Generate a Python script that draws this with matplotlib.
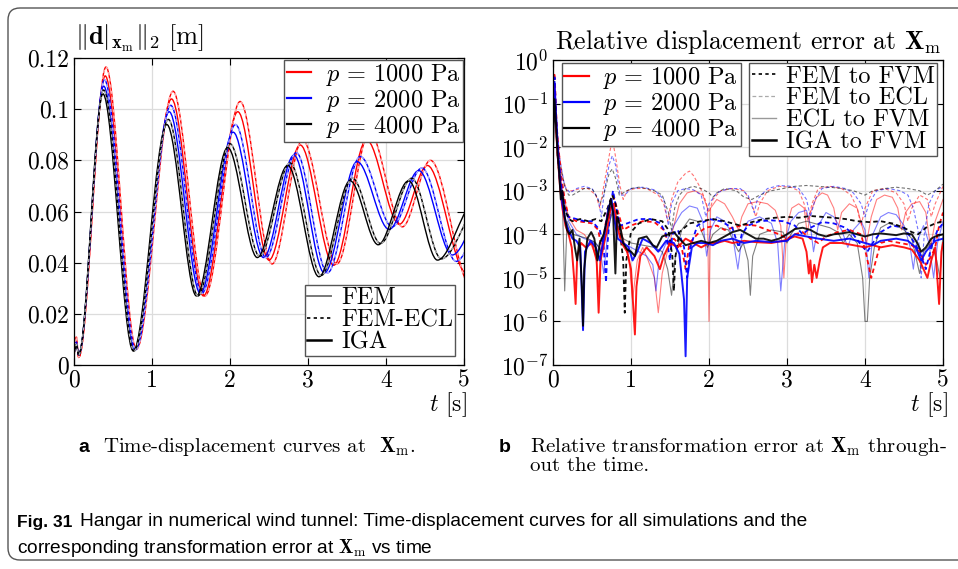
import matplotlib
matplotlib.use("Agg")
import matplotlib.pyplot as plt
import numpy as np
from matplotlib.path import Path
from matplotlib.patches import PathPatch, FancyBboxPatch
from matplotlib.lines import Line2D
from matplotlib.transforms import IdentityTransform

plt.rcParams['font.family'] = 'serif'
plt.rcParams['font.serif'] = ['cmr10']
plt.rcParams['mathtext.fontset'] = 'cm'
plt.rcParams['axes.unicode_minus'] = False

SANS = ['Liberation Sans Narrow', 'Liberation Sans', 'DejaVu Sans']

pressures = [r'$p\,=\,1000$ Pa', r'$p\,=\,2000$ Pa', r'$p\,=\,4000$ Pa']
colors = ['#ff0000', '#0000ff', '#000000']

# ---- panel a: turning points of the displacement curves (t [s], |d| [m])
fem_1000_t = [0, 0.03, 0.06, 0.41, 0.80, 1.27, 1.68, 2.13, 2.54, 2.93, 3.37, 3.79, 4.21, 4.57, 5.10]
fem_1000_d = [0.004, 0.011, 0.003, 0.1165, 0.0062, 0.107, 0.027, 0.103, 0.0395, 0.088, 0.0395, 0.091, 0.054, 0.080, 0.030]
iga_1000_t = [0, 0.03, 0.06, 0.40, 0.79, 1.25, 1.66, 2.10, 2.50, 2.90, 3.33, 3.75, 4.17, 4.53, 5.03]
iga_1000_d = [0.005, 0.009, 0.003, 0.113, 0.0065, 0.104, 0.027, 0.099, 0.041, 0.086, 0.039, 0.088, 0.055, 0.078, 0.036]
fem_2000_t = [0, 0.03, 0.06, 0.39, 0.79, 1.24, 1.64, 2.07, 2.46, 2.85, 3.25, 3.67, 4.08, 4.46, 4.90, 5.30]
fem_2000_d = [0.005, 0.009, 0.004, 0.1115, 0.006, 0.1015, 0.028, 0.094, 0.042, 0.083, 0.036, 0.0815, 0.054, 0.077, 0.0405, 0.060]
iga_2000_t = [0, 0.03, 0.06, 0.38, 0.78, 1.22, 1.62, 2.04, 2.43, 2.82, 3.21, 3.63, 4.04, 4.42, 4.85, 5.25]
iga_2000_d = [0.005, 0.008, 0.004, 0.109, 0.006, 0.099, 0.028, 0.091, 0.042, 0.082, 0.036, 0.0795, 0.053, 0.076, 0.043, 0.060]
fem_4000_t = [0, 0.03, 0.06, 0.38, 0.77, 1.21, 1.59, 2.00, 2.38, 2.77, 3.17, 3.57, 3.93, 4.33, 4.71, 5.25]
fem_4000_d = [0.005, 0.008, 0.004, 0.1075, 0.0055, 0.096, 0.027, 0.0865, 0.0425, 0.079, 0.035, 0.073, 0.0475, 0.073, 0.0415, 0.065]
iga_4000_t = [0, 0.03, 0.06, 0.37, 0.76, 1.19, 1.57, 1.97, 2.35, 2.74, 3.14, 3.54, 3.90, 4.29, 4.66, 5.15]
iga_4000_d = [0.005, 0.008, 0.004, 0.106, 0.0055, 0.094, 0.027, 0.085, 0.042, 0.078, 0.0345, 0.072, 0.047, 0.072, 0.041, 0.064]

# ---- panel b: relative errors, (t [s], log10 error)
iga_fvm_4000 = [(0, -2.0), (0.02, -0.9), (0.04, -1.5), (0.06, -2.2), (0.08, -2.6), (0.10, -3.2), (0.12, -3.0), (0.15, -3.6),
                (0.18, -3.9), (0.21, -4.0), (0.25, -3.9), (0.28, -4.3), (0.31, -4.6), (0.34, -4.1), (0.37, -5.2), (0.385, -6.1),
                (0.40, -4.8), (0.44, -4.1), (0.49, -3.95), (0.53, -4.1), (0.57, -4.6), (0.60, -4.2), (0.65, -4.0), (0.70, -3.6),
                (0.74, -3.2), (0.77, -3.5), (0.80, -4.9), (0.82, -3.6), (0.86, -3.8), (0.90, -4.2), (0.95, -4.35), (1.0, -4.4),
                (1.05, -4.5), (1.1, -4.1), (1.2, -4.05), (1.28, -4.25), (1.33, -4.3), (1.4, -4.05), (1.48, -4.0), (1.55, -3.95),
                (1.62, -4.1), (1.7, -4.25), (1.8, -4.2), (1.9, -4.15), (2.0, -4.2), (2.1, -4.15), (2.2, -4.05), (2.3, -3.95),
                (2.4, -3.9), (2.5, -4.0), (2.6, -4.1), (2.7, -4.1), (2.8, -4.15), (2.9, -4.1), (3.0, -4.0), (3.1, -3.88),
                (3.2, -3.85), (3.3, -3.9), (3.4, -4.0), (3.5, -4.05), (3.6, -4.0), (3.7, -3.98), (3.8, -3.95), (3.9, -4.0),
                (4.0, -4.05), (4.1, -4.0), (4.2, -3.98), (4.3, -4.0), (4.4, -4.02), (4.5, -3.98), (4.6, -4.0), (4.67, -4.2),
                (4.72, -4.4), (4.78, -4.3), (4.85, -4.1), (4.9, -4.05), (5.0, -4.0)]
iga_fvm_2000 = [(0, -1.5), (0.02, -0.5), (0.04, -1.3), (0.06, -2.0), (0.09, -2.8), (0.12, -3.3), (0.16, -3.7), (0.2, -3.9),
                (0.25, -4.1), (0.3, -4.15), (0.35, -4.3), (0.385, -6.2), (0.41, -4.4), (0.48, -4.15), (0.55, -4.3), (0.6, -4.6),
                (0.66, -4.0), (0.71, -3.4), (0.75, -3.2), (0.79, -3.7), (0.83, -4.1), (0.9, -4.2), (0.97, -4.3), (1.02, -4.6),
                (1.08, -4.4), (1.15, -4.1), (1.25, -4.2), (1.35, -4.4), (1.45, -4.15), (1.55, -4.2), (1.62, -4.45), (1.68, -5.5),
                (1.70, -6.8), (1.72, -5.0), (1.78, -4.3), (1.85, -4.2), (1.95, -4.2), (2.05, -4.25), (2.15, -4.15), (2.3, -4.1),
                (2.45, -4.2), (2.6, -4.15), (2.8, -4.18), (3.0, -4.15), (3.1, -4.0), (3.25, -4.05), (3.4, -4.1), (3.6, -4.15),
                (3.8, -4.1), (4.0, -4.2), (4.1, -4.25), (4.2, -4.15), (4.4, -4.1), (4.55, -4.15), (4.65, -4.3), (4.72, -4.6),
                (4.78, -4.4), (4.9, -4.15), (5.0, -4.1)]
iga_fvm_1000 = [(0, -1.2), (0.02, -0.6), (0.04, -1.6), (0.06, -2.2), (0.09, -2.9), (0.12, -3.4), (0.16, -3.8), (0.2, -4.0),
                (0.24, -4.3), (0.27, -5.0), (0.29, -5.6), (0.31, -4.5), (0.36, -4.2), (0.42, -4.3), (0.5, -4.2), (0.56, -4.6),
                (0.585, -5.8), (0.61, -4.6), (0.68, -4.0), (0.74, -3.4), (0.78, -3.3), (0.82, -3.8), (0.88, -4.2), (0.95, -4.4),
                (1.0, -4.8), (1.03, -5.7), (1.05, -6.3), (1.07, -5.2), (1.12, -4.5), (1.2, -4.3), (1.3, -4.5), (1.37, -4.8),
                (1.42, -4.5), (1.5, -4.2), (1.6, -4.3), (1.7, -4.1), (1.8, -4.2), (1.9, -4.3), (2.0, -4.2), (2.1, -4.2),
                (2.2, -4.15), (2.3, -4.2), (2.45, -4.15), (2.6, -4.18), (2.8, -4.2), (2.95, -4.15), (3.1, -4.05), (3.2, -4.1),
                (3.25, -4.4), (3.28, -4.9), (3.3, -4.6), (3.32, -5.1), (3.35, -4.7), (3.38, -5.0), (3.42, -4.6), (3.46, -4.3),
                (3.55, -4.2), (3.7, -4.2), (3.85, -4.25), (4.0, -4.3), (4.1, -4.25), (4.2, -4.3), (4.35, -4.25), (4.5, -4.3),
                (4.6, -4.35), (4.7, -4.6), (4.8, -5.0), (4.85, -4.6), (4.9, -4.3), (4.95, -5.6), (4.98, -4.4), (5.0, -4.2)]

fem_fvm_4000 = [(0, -1.5), (0.03, -1.0), (0.06, -2.2), (0.1, -3.0), (0.15, -3.4), (0.2, -3.65), (0.25, -3.7), (0.35, -3.65),
                (0.45, -3.7), (0.55, -3.65), (0.62, -3.7), (0.7, -3.4), (0.76, -3.1), (0.8, -3.3), (0.85, -3.8), (0.9, -4.6),
                (0.92, -5.8), (0.94, -4.6), (1.0, -3.95), (1.1, -3.75), (1.25, -3.65), (1.4, -3.7), (1.48, -3.9), (1.53, -4.5),
                (1.55, -5.3), (1.57, -4.5), (1.62, -3.95), (1.75, -3.75), (1.9, -3.7), (2.05, -3.65), (2.2, -3.7), (2.3, -3.75),
                (2.4, -3.8), (2.55, -3.72), (2.7, -3.65), (2.85, -3.62), (3.0, -3.6), (3.15, -3.62), (3.3, -3.58), (3.45, -3.6),
                (3.6, -3.62), (3.75, -3.65), (3.9, -3.7), (4.05, -3.72), (4.2, -3.7), (4.35, -3.75), (4.5, -3.85), (4.6, -3.95),
                (4.68, -4.0), (4.78, -3.85), (4.9, -3.75), (5.0, -3.7)]
fem_fvm_2000 = [(0, -0.8), (0.02, -0.4), (0.05, -1.8), (0.1, -2.8), (0.15, -3.4), (0.2, -3.6), (0.3, -3.65), (0.4, -3.7),
                (0.5, -3.7), (0.6, -3.9), (0.65, -4.3), (0.68, -5.1), (0.7, -4.2), (0.74, -3.3), (0.77, -3.0), (0.8, -3.3),
                (0.86, -3.8), (0.95, -3.75), (1.1, -3.65), (1.25, -3.65), (1.38, -3.75), (1.45, -4.0), (1.5, -4.6), (1.53, -4.0),
                (1.6, -3.9), (1.68, -4.3), (1.72, -5.0), (1.76, -4.3), (1.85, -3.8), (2.0, -3.65), (2.15, -3.7), (2.3, -3.85),
                (2.38, -4.3), (2.42, -4.0), (2.5, -3.8), (2.65, -3.7), (2.8, -3.68), (2.95, -3.7), (3.1, -3.8), (3.2, -4.0),
                (3.3, -3.85), (3.45, -3.72), (3.6, -3.75), (3.75, -3.85), (3.85, -4.0), (3.95, -4.25), (4.03, -4.4), (4.1, -4.2),
                (4.2, -3.95), (4.35, -3.8), (4.5, -3.85), (4.6, -4.1), (4.7, -4.4), (4.78, -4.8), (4.85, -4.3), (4.93, -3.9),
                (5.0, -3.75)]
fem_fvm_1000 = [(0, -0.6), (0.02, -0.3), (0.05, -1.6), (0.1, -2.6), (0.15, -3.2), (0.2, -3.6), (0.3, -3.7), (0.4, -3.72),
                (0.5, -3.75), (0.58, -3.9), (0.63, -4.4), (0.67, -3.8), (0.72, -3.3), (0.77, -3.1), (0.82, -3.4), (0.9, -3.9),
                (1.0, -3.8), (1.15, -3.7), (1.3, -3.72), (1.42, -3.9), (1.5, -4.3), (1.55, -4.1), (1.65, -4.3), (1.7, -4.8),
                (1.75, -4.2), (1.85, -4.0), (1.95, -3.85), (2.1, -3.8), (2.2, -3.9), (2.3, -3.85), (2.45, -3.78), (2.6, -3.8),
                (2.75, -3.9), (2.9, -4.0), (3.0, -4.1), (3.1, -4.0), (3.2, -3.95), (3.3, -4.1), (3.4, -4.2), (3.5, -4.05),
                (3.65, -3.95), (3.8, -3.9), (3.95, -4.0), (4.02, -4.5), (4.08, -5.0), (4.14, -4.6), (4.2, -4.2), (4.3, -4.15),
                (4.45, -4.2), (4.6, -4.25), (4.7, -4.4), (4.78, -4.7), (4.85, -4.5), (4.9, -4.3), (4.95, -3.8), (5.0, -3.5)]

fem_ecl_4000 = [(0, -0.8), (0.04, -1.5), (0.08, -2.3), (0.15, -2.9), (0.2, -3.1), (0.25, -3.1), (0.3, -3.05), (0.4, -2.95),
                (0.5, -2.95), (0.55, -3.1), (0.6, -3.3), (0.65, -3.1), (0.72, -2.6), (0.76, -2.5), (0.8, -2.7), (0.85, -3.1),
                (0.9, -3.05), (1.0, -2.95), (1.1, -2.92), (1.2, -2.95), (1.3, -3.0), (1.4, -3.1), (1.48, -3.5), (1.52, -3.9),
                (1.56, -3.4), (1.62, -3.1), (1.7, -2.95), (1.8, -2.9), (1.9, -2.95), (2.0, -3.05), (2.05, -3.15), (2.1, -3.05),
                (2.2, -2.95), (2.35, -3.0), (2.45, -3.15), (2.55, -3.2), (2.65, -3.1), (2.8, -3.0), (2.95, -2.95), (3.1, -2.9),
                (3.25, -2.88), (3.4, -2.9), (3.55, -2.92), (3.7, -2.95), (3.85, -3.0), (4.0, -3.1), (4.1, -3.0), (4.25, -2.95),
                (4.4, -2.92), (4.55, -2.95), (4.7, -3.0), (4.8, -3.1), (4.9, -3.0), (5.0, -2.85)]
fem_ecl_2000 = [(0, -0.6), (0.04, -1.2), (0.08, -2.2), (0.15, -2.9), (0.22, -3.05), (0.3, -2.95), (0.4, -2.9), (0.5, -2.95),
                (0.58, -3.2), (0.62, -3.6), (0.66, -3.0), (0.72, -2.4), (0.76, -2.2), (0.8, -2.4), (0.86, -3.1), (0.92, -3.1),
                (1.0, -2.95), (1.15, -2.92), (1.3, -2.98), (1.42, -3.2), (1.48, -3.8), (1.52, -3.3), (1.6, -3.0), (1.7, -2.95),
                (1.8, -2.98), (1.9, -3.1), (1.96, -3.6), (2.0, -3.3), (2.1, -3.05), (2.25, -2.95), (2.4, -2.95), (2.5, -3.1),
                (2.58, -3.5), (2.62, -3.2), (2.75, -2.95), (2.9, -2.88), (3.05, -2.9), (3.15, -2.95), (3.25, -3.2), (3.3, -3.6),
                (3.36, -3.2), (3.45, -2.95), (3.6, -2.9), (3.75, -2.95), (3.85, -3.05), (3.95, -3.3), (4.0, -3.6), (4.05, -3.3),
                (4.15, -3.0), (4.3, -2.95), (4.45, -3.0), (4.55, -3.1), (4.62, -3.4), (4.68, -3.9), (4.72, -5.0), (4.76, -4.0),
                (4.82, -3.3), (4.9, -3.0), (5.0, -2.9)]
fem_ecl_1000 = [(0, -0.3), (0.03, -1.0), (0.07, -2.0), (0.12, -2.7), (0.18, -3.0), (0.25, -3.0), (0.35, -2.95), (0.45, -2.95),
                (0.55, -3.1), (0.6, -3.4), (0.65, -2.9), (0.72, -2.2), (0.76, -1.8), (0.8, -2.2), (0.86, -2.9), (0.9, -3.2),
                (0.95, -3.0), (1.05, -2.95), (1.2, -2.95), (1.35, -3.1), (1.42, -3.3), (1.47, -3.7), (1.52, -3.2), (1.6, -2.8),
                (1.7, -2.6), (1.75, -2.55), (1.8, -2.65), (1.88, -2.9), (1.95, -3.2), (2.0, -3.5), (2.05, -3.2), (2.15, -3.0),
                (2.3, -2.95), (2.45, -3.0), (2.55, -3.3), (2.6, -3.6), (2.65, -3.3), (2.75, -3.0), (2.9, -2.9), (3.05, -2.92),
                (3.15, -3.0), (3.22, -3.3), (3.27, -3.7), (3.32, -3.3), (3.4, -2.95), (3.55, -2.9), (3.7, -2.95), (3.82, -3.1),
                (3.9, -3.4), (3.95, -3.8), (4.0, -3.4), (4.1, -3.0), (4.25, -2.95), (4.4, -3.05), (4.5, -3.3), (4.55, -3.7),
                (4.6, -3.4), (4.7, -3.1), (4.8, -3.2), (4.85, -3.6), (4.9, -3.3), (5.0, -2.9)]

ecl_fvm_4000 = [(0, -1.0), (0.03, -1.5), (0.07, -2.4), (0.12, -3.2), (0.15, -5.3), (0.18, -3.7), (0.25, -4.0), (0.35, -4.05),
                (0.45, -4.1), (0.55, -4.2), (0.62, -4.4), (0.7, -3.9), (0.76, -3.5), (0.82, -3.8), (0.9, -4.1), (1.0, -4.2),
                (1.15, -4.25), (1.3, -4.3), (1.4, -4.4), (1.47, -4.8), (1.52, -5.4), (1.57, -4.5), (1.65, -3.9), (1.75, -3.65),
                (1.85, -3.7), (1.92, -4.0), (1.98, -4.3), (2.05, -4.0), (2.15, -3.85), (2.25, -3.9), (2.32, -4.2), (2.38, -4.4),
                (2.44, -4.2), (2.5, -4.6), (2.53, -5.4), (2.56, -4.5), (2.65, -4.0), (2.8, -3.9), (2.95, -3.95), (3.0, -4.2),
                (3.05, -4.0), (3.15, -3.75), (3.25, -3.7), (3.35, -3.75), (3.45, -3.8), (3.55, -3.85), (3.65, -3.95), (3.72, -4.2),
                (3.8, -4.0), (3.9, -4.2), (3.97, -5.0), (4.0, -6.0), (4.03, -6.0), (4.06, -5.0), (4.12, -4.3), (4.2, -3.85),
                (4.3, -3.75), (4.4, -3.8), (4.5, -3.9), (4.6, -4.1), (4.65, -4.5), (4.7, -4.9), (4.75, -4.4), (4.85, -4.2),
                (4.92, -4.6), (4.96, -5.0), (5.0, -4.0)]
ecl_fvm_2000 = [(0, -0.7), (0.03, -1.3), (0.07, -2.3), (0.12, -3.1), (0.2, -3.7), (0.3, -4.0), (0.4, -4.1), (0.5, -4.15),
                (0.6, -4.3), (0.65, -4.9), (0.7, -4.0), (0.76, -3.4), (0.82, -3.7), (0.9, -4.2), (1.0, -4.3), (1.1, -4.4),
                (1.2, -4.5), (1.28, -4.7), (1.32, -5.3), (1.36, -4.6), (1.45, -4.2), (1.55, -3.8), (1.65, -3.5), (1.75, -3.35),
                (1.85, -3.4), (1.92, -3.7), (1.97, -4.5), (2.02, -3.9), (2.1, -3.6), (2.2, -3.7), (2.3, -4.0), (2.37, -4.8),
                (2.42, -4.1), (2.5, -3.7), (2.65, -3.6), (2.8, -3.75), (2.88, -4.2), (2.92, -5.3), (2.97, -4.2), (3.05, -3.7),
                (3.15, -3.5), (3.25, -3.45), (3.3, -3.8), (3.34, -4.4), (3.4, -3.8), (3.5, -3.5), (3.6, -3.6), (3.7, -3.9),
                (3.78, -4.3), (3.85, -3.9), (3.95, -3.7), (4.0, -3.9), (4.05, -5.0), (4.1, -4.0), (4.2, -3.6), (4.3, -3.5),
                (4.4, -3.55), (4.5, -3.8), (4.58, -4.3), (4.62, -4.8), (4.66, -4.2), (4.75, -3.8), (4.82, -4.2), (4.88, -5.0),
                (4.93, -4.2), (5.0, -3.7)]
ecl_fvm_1000 = [(0, -0.5), (0.03, -1.2), (0.07, -2.2), (0.12, -3.0), (0.2, -3.6), (0.3, -3.9), (0.4, -4.0), (0.48, -4.2),
                (0.55, -4.5), (0.58, -5.2), (0.62, -4.3), (0.7, -3.6), (0.76, -3.3), (0.82, -3.6), (0.9, -4.1), (0.97, -4.5),
                (1.02, -5.5), (1.08, -4.6), (1.15, -4.3), (1.22, -4.6), (1.3, -5.0), (1.35, -5.8), (1.4, -4.9), (1.48, -4.3),
                (1.55, -3.8), (1.62, -3.3), (1.72, -3.05), (1.82, -3.0), (1.92, -3.1), (1.98, -3.4), (2.0, -6.0), (2.02, -3.4),
                (2.1, -3.2), (2.2, -3.3), (2.3, -3.6), (2.38, -3.9), (2.42, -3.6), (2.5, -3.3), (2.62, -3.25), (2.75, -3.3),
                (2.85, -3.45), (2.92, -3.8), (2.96, -5.0), (3.0, -3.8), (3.06, -3.4), (3.15, -3.3), (3.22, -3.4), (3.26, -4.0),
                (3.3, -3.5), (3.38, -3.15), (3.45, -3.05), (3.52, -3.1), (3.6, -3.4), (3.65, -3.9), (3.7, -3.5), (3.8, -3.3),
                (3.9, -3.4), (3.96, -3.8), (4.02, -4.2), (4.08, -3.6), (4.15, -3.2), (4.25, -3.1), (4.35, -3.15), (4.42, -3.4),
                (4.47, -3.9), (4.52, -3.5), (4.6, -3.3), (4.7, -3.25), (4.78, -3.5), (4.84, -4.3), (4.9, -3.7), (5.0, -3.2)]

W, H = 958, 569
fig = plt.figure(figsize=(W / 100, H / 100), dpi=100)

# rounded outer frame, open to the right like the page crop
frame = FancyBboxPatch((8, 9), 1010, 552, boxstyle='round,pad=0,rounding_size=12',
                       transform=IdentityTransform(), facecolor='none', edgecolor='#555555', lw=1.0)
fig.patches.append(frame)

ax1 = fig.add_axes([74 / W, 1 - 365 / H, 390 / W, 307 / H])
ax2 = fig.add_axes([553 / W, 1 - 365 / H, 390 / W, 305 / H])


def turning_path(ts, vs):
    # smooth curve through turning points (flat tangent at each point)
    verts = [(ts[0], vs[0])]
    codes = [Path.MOVETO]
    for i in range(1, len(ts)):
        h = ts[i] - ts[i - 1]
        verts += [(ts[i - 1] + h / 3, vs[i - 1]), (ts[i] - h / 3, vs[i]), (ts[i], vs[i])]
        codes += [Path.CURVE4] * 3
    return Path(verts, codes)


curves_a = [(fem_1000_t, fem_1000_d, iga_1000_t, iga_1000_d),
            (fem_2000_t, fem_2000_d, iga_2000_t, iga_2000_d),
            (fem_4000_t, fem_4000_d, iga_4000_t, iga_4000_d)]
for (ft, fd, it, idd), c in zip(curves_a, colors):
    ax1.add_patch(PathPatch(turning_path(it, idd), fill=False, edgecolor=c, lw=1.0))
    ax1.add_patch(PathPatch(turning_path(ft, fd), fill=False, edgecolor=c, lw=1.0))
    ax1.add_patch(PathPatch(turning_path(ft, fd), fill=False, edgecolor='white', lw=0.9,
                            linestyle=(0, (2.5, 2.5)), alpha=0.7))

ax1.set_xlim(0, 5)
ax1.set_ylim(0, 0.12)
ax1.set_xticks([0, 1, 2, 3, 4, 5])
ax1.set_xticklabels(['0', '1', '2', '3', '4', '5'])
ax1.set_yticks([0, 0.02, 0.04, 0.06, 0.08, 0.1, 0.12])
ax1.set_yticklabels(['0', '0.02', '0.04', '0.06', '0.08', '0.1', '0.12'])
ax1.grid(True, color='#dcdcdc', lw=0.9)
ax1.set_axisbelow(True)

LEG = dict(fontsize=17.5, fancybox=False, edgecolor='#555555', framealpha=1, borderaxespad=0,
           borderpad=0.1, handlelength=1.0, labelspacing=0.0)

leg_p = [Line2D([], [], color=c, lw=1.6) for c in colors]
l1 = ax1.legend(leg_p, pressures, loc='upper right', bbox_to_anchor=(0.997, 0.995),
                handletextpad=0.6, **LEG)
ax1.add_artist(l1)
leg_m = [Line2D([], [], color='#777777', lw=1.4),
         Line2D([], [], color='black', lw=1.2, ls=(0, (2, 2))),
         Line2D([], [], color='black', lw=1.8)]
ax1.legend(leg_m, ['FEM', 'FEM-ECL', 'IGA'], loc='lower right', bbox_to_anchor=(0.978, 0.03),
           handletextpad=0.4, **LEG)

# panel b
groups = [
    ([ecl_fvm_1000, ecl_fvm_2000, ecl_fvm_4000], dict(lw=0.8, alpha=0.5, ls='-')),
    ([fem_ecl_1000, fem_ecl_2000, fem_ecl_4000], dict(lw=0.8, alpha=0.55, ls=(0, (3, 2)))),
    ([fem_fvm_1000, fem_fvm_2000, fem_fvm_4000], dict(lw=1.3, alpha=0.95, ls=(0, (2.5, 1.8)))),
    ([iga_fvm_1000, iga_fvm_2000, iga_fvm_4000], dict(lw=1.4, alpha=0.9, ls='-')),
]
for series, style in groups:
    for pts, c in zip(series, colors):
        t = np.array([p[0] for p in pts])
        e = np.array([p[1] for p in pts])
        ax2.plot(t, 10.0 ** e, color=c, **style)

ax2.set_yscale('log')
ax2.set_xlim(0, 5)
ax2.set_ylim(1e-7, 1)
ax2.set_xticks([0, 1, 2, 3, 4, 5])
ax2.set_xticklabels(['0', '1', '2', '3', '4', '5'])
ax2.set_yticks([10.0 ** k for k in range(-7, 1)])
ax2.set_yticklabels(['$10^{%d}$' % k for k in range(-7, 1)])
ax2.grid(True, which='major', color='#dcdcdc', lw=0.9)
ax2.grid(True, which='minor', color='#cccccc', lw=0.6, ls=(0, (1, 2)))
ax2.set_axisbelow(True)

l2 = ax2.legend([Line2D([], [], color=c, lw=1.6) for c in colors], pressures, loc='upper left',
                bbox_to_anchor=(0.023, 0.99), handletextpad=0.6, **LEG)
ax2.add_artist(l2)
leg_c = [Line2D([], [], color='black', lw=1.2, ls=(0, (2, 2))),
         Line2D([], [], color='#aaaaaa', lw=0.9, ls=(0, (3, 2))),
         Line2D([], [], color='#999999', lw=1.0),
         Line2D([], [], color='black', lw=1.8)]
ax2.legend(leg_c, ['FEM to FVM', 'FEM to ECL', 'ECL to FVM', 'IGA to FVM'], loc='upper right',
           bbox_to_anchor=(0.985, 0.99), handletextpad=0.4, **LEG)

for ax in (ax1, ax2):
    ax.tick_params(which='both', direction='in', top=True, right=True, labelsize=17)
    ax.tick_params(which='major', length=5, width=0.8)
    ax.tick_params(which='minor', length=2.5, width=0.6)
    for s in ax.spines.values():
        s.set_linewidth(0.9)

# axis texts
fig.text(75 / W, 1 - 38 / H, r'$\Vert\mathbf{d}|_{\mathbf{x}_\mathrm{m}}\Vert_2\ [\mathrm{m}]$', fontsize=19,
         va='center', ha='left')
fig.text(748 / W, 1 - 42 / H, r'Relative displacement error at $\mathbf{X}_\mathrm{m}$', fontsize=18.5,
         va='center', ha='center')
fig.text(467 / W, 1 - 405 / H, r'$t$ [s]', fontsize=17, va='center', ha='right')
fig.text(948 / W, 1 - 405 / H, r'$t$ [s]', fontsize=17, va='center', ha='right')

# sub captions
fig.text(78 / W, 1 - 447 / H, 'a', family=SANS, weight='bold', fontsize=14, va='center')
fig.text(103 / W, 1 - 447 / H, r'Time-displacement curves at  $\mathbf{X}_\mathrm{m}$.', fontsize=15, va='center')
fig.text(499 / W, 1 - 447 / H, 'b', family=SANS, weight='bold', fontsize=14, va='center')
fig.text(530 / W, 1 - 447 / H, r'Relative transformation error at $\mathbf{X}_\mathrm{m}$ through-', fontsize=15,
         va='center')
fig.text(530 / W, 1 - 466 / H, 'out the time.', fontsize=15, va='center')

# figure caption
fig.text(17 / W, 1 - 522 / H, 'Fig. 31', family=SANS, weight='bold', fontsize=12.5, va='center')
fig.text(80 / W, 1 - 522 / H, 'Hangar in numerical wind tunnel: Time-displacement curves for all simulations and the',
         family=SANS, fontsize=13.8, va='center')
fig.text(17 / W, 1 - 548 / H, r'corresponding transformation error at $\mathbf{X}_\mathrm{m}$ vs time',
         family=SANS, fontsize=13.8, va='center')

fig.savefig('out.png', dpi=100)
